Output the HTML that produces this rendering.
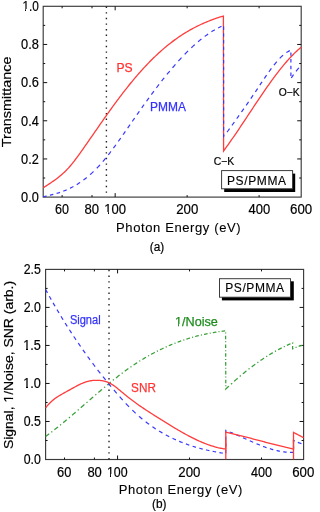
<!DOCTYPE html>
<html><head><meta charset="utf-8"><style>
html,body{margin:0;padding:0;background:#fff;width:315px;height:512px;overflow:hidden}
svg{position:absolute;left:0;top:0;display:block}
text{font-family:"Liberation Sans",sans-serif}
svg{will-change:transform}
</style></head><body>
<svg width="315" height="512" viewBox="0 0 315 512">
<rect x="43.2" y="6.3" width="258.00" height="190.80" fill="none" stroke="#3a3a3a" stroke-width="1.15"/>
<line x1="62.13" y1="197.1" x2="62.13" y2="195.1" stroke="#111" stroke-width="1"/>
<line x1="62.13" y1="6.3" x2="62.13" y2="8.3" stroke="#111" stroke-width="1"/>
<line x1="92.00" y1="197.1" x2="92.00" y2="195.1" stroke="#111" stroke-width="1"/>
<line x1="92.00" y1="6.3" x2="92.00" y2="8.3" stroke="#111" stroke-width="1"/>
<line x1="115.17" y1="197.1" x2="115.17" y2="193.1" stroke="#111" stroke-width="1"/>
<line x1="115.17" y1="6.3" x2="115.17" y2="10.3" stroke="#111" stroke-width="1"/>
<line x1="187.13" y1="197.1" x2="187.13" y2="195.1" stroke="#111" stroke-width="1"/>
<line x1="187.13" y1="6.3" x2="187.13" y2="8.3" stroke="#111" stroke-width="1"/>
<line x1="259.10" y1="197.1" x2="259.10" y2="195.1" stroke="#111" stroke-width="1"/>
<line x1="259.10" y1="6.3" x2="259.10" y2="8.3" stroke="#111" stroke-width="1"/>
<line x1="43.2" y1="178.02" x2="45.2" y2="178.02" stroke="#111" stroke-width="1"/>
<line x1="301.2" y1="178.02" x2="299.2" y2="178.02" stroke="#111" stroke-width="1"/>
<line x1="43.2" y1="158.94" x2="47.2" y2="158.94" stroke="#111" stroke-width="1"/>
<line x1="301.2" y1="158.94" x2="297.2" y2="158.94" stroke="#111" stroke-width="1"/>
<line x1="43.2" y1="139.86" x2="45.2" y2="139.86" stroke="#111" stroke-width="1"/>
<line x1="301.2" y1="139.86" x2="299.2" y2="139.86" stroke="#111" stroke-width="1"/>
<line x1="43.2" y1="120.78" x2="47.2" y2="120.78" stroke="#111" stroke-width="1"/>
<line x1="301.2" y1="120.78" x2="297.2" y2="120.78" stroke="#111" stroke-width="1"/>
<line x1="43.2" y1="101.70" x2="45.2" y2="101.70" stroke="#111" stroke-width="1"/>
<line x1="301.2" y1="101.70" x2="299.2" y2="101.70" stroke="#111" stroke-width="1"/>
<line x1="43.2" y1="82.62" x2="47.2" y2="82.62" stroke="#111" stroke-width="1"/>
<line x1="301.2" y1="82.62" x2="297.2" y2="82.62" stroke="#111" stroke-width="1"/>
<line x1="43.2" y1="63.54" x2="45.2" y2="63.54" stroke="#111" stroke-width="1"/>
<line x1="301.2" y1="63.54" x2="299.2" y2="63.54" stroke="#111" stroke-width="1"/>
<line x1="43.2" y1="44.46" x2="47.2" y2="44.46" stroke="#111" stroke-width="1"/>
<line x1="301.2" y1="44.46" x2="297.2" y2="44.46" stroke="#111" stroke-width="1"/>
<line x1="43.2" y1="25.38" x2="45.2" y2="25.38" stroke="#111" stroke-width="1"/>
<line x1="301.2" y1="25.38" x2="299.2" y2="25.38" stroke="#111" stroke-width="1"/>
<line x1="106.4" y1="6.6" x2="106.4" y2="197" stroke="#222" stroke-width="1.4" stroke-dasharray="1.4 4.2"/>
<path d="M43.20,187.79 L44.21,187.14 L45.21,186.48 L46.22,185.83 L47.23,185.18 L48.23,184.52 L49.24,183.86 L50.25,183.19 L51.25,182.52 L52.26,181.83 L53.27,181.14 L54.27,180.43 L55.28,179.70 L56.29,178.96 L57.29,178.20 L58.30,177.42 L59.31,176.61 L60.31,175.79 L61.32,174.93 L62.33,174.05 L63.33,173.14 L64.34,172.20 L65.35,171.23 L66.35,170.22 L67.36,169.17 L68.37,168.09 L69.37,166.96 L70.38,165.80 L71.39,164.60 L72.39,163.37 L73.40,162.11 L74.41,160.82 L75.41,159.50 L76.42,158.16 L77.43,156.80 L78.43,155.42 L79.44,154.03 L80.45,152.62 L81.45,151.21 L82.46,149.78 L83.47,148.35 L84.47,146.92 L85.48,145.48 L86.49,144.04 L87.49,142.59 L88.50,141.14 L89.51,139.69 L90.52,138.24 L91.52,136.79 L92.53,135.34 L93.54,133.88 L94.54,132.43 L95.55,130.97 L96.56,129.52 L97.56,128.07 L98.57,126.62 L99.58,125.17 L100.58,123.73 L101.59,122.28 L102.60,120.85 L103.60,119.41 L104.61,117.98 L105.62,116.56 L106.62,115.13 L107.63,113.72 L108.64,112.31 L109.64,110.90 L110.65,109.50 L111.66,108.11 L112.66,106.72 L113.67,105.34 L114.68,103.96 L115.68,102.59 L116.69,101.23 L117.70,99.88 L118.70,98.53 L119.71,97.19 L120.72,95.86 L121.72,94.54 L122.73,93.22 L123.74,91.92 L124.74,90.62 L125.75,89.33 L126.76,88.05 L127.76,86.78 L128.77,85.52 L129.78,84.27 L130.78,83.03 L131.79,81.80 L132.80,80.58 L133.80,79.38 L134.81,78.18 L135.82,76.99 L136.82,75.82 L137.83,74.66 L138.84,73.50 L139.84,72.36 L140.85,71.23 L141.86,70.11 L142.86,69.00 L143.87,67.91 L144.88,66.82 L145.88,65.75 L146.89,64.69 L147.90,63.63 L148.90,62.59 L149.91,61.57 L150.92,60.55 L151.92,59.54 L152.93,58.55 L153.94,57.57 L154.94,56.60 L155.95,55.64 L156.96,54.69 L157.96,53.75 L158.97,52.83 L159.98,51.91 L160.98,51.01 L161.99,50.12 L163.00,49.25 L164.00,48.38 L165.01,47.53 L166.02,46.69 L167.02,45.86 L168.03,45.04 L169.04,44.23 L170.04,43.44 L171.05,42.65 L172.06,41.88 L173.06,41.13 L174.07,40.38 L175.08,39.64 L176.08,38.92 L177.09,38.21 L178.10,37.51 L179.11,36.82 L180.11,36.14 L181.12,35.47 L182.13,34.81 L183.13,34.17 L184.14,33.53 L185.15,32.91 L186.15,32.30 L187.16,31.69 L188.17,31.10 L189.17,30.51 L190.18,29.94 L191.19,29.38 L192.19,28.83 L193.20,28.28 L194.21,27.75 L195.21,27.22 L196.22,26.71 L197.23,26.20 L198.23,25.71 L199.24,25.22 L200.25,24.74 L201.25,24.27 L202.26,23.81 L203.27,23.36 L204.27,22.92 L205.28,22.48 L206.29,22.06 L207.29,21.64 L208.30,21.23 L209.31,20.83 L210.31,20.43 L211.32,20.05 L212.33,19.67 L213.33,19.30 L214.34,18.94 L215.35,18.58 L216.35,18.24 L217.36,17.90 L218.37,17.56 L219.37,17.24 L220.38,16.92 L221.39,16.60 L222.39,16.30 L223.40,16.00 L223.60,150.90 L224.62,149.51 L225.64,148.11 L226.66,146.70 L227.68,145.27 L228.71,143.84 L229.73,142.40 L230.75,140.94 L231.77,139.48 L232.79,138.00 L233.81,136.52 L234.83,135.03 L235.85,133.54 L236.87,132.03 L237.89,130.52 L238.92,129.01 L239.94,127.49 L240.96,125.96 L241.98,124.43 L243.00,122.90 L244.02,121.37 L245.04,119.83 L246.06,118.29 L247.08,116.75 L248.11,115.20 L249.13,113.66 L250.15,112.12 L251.17,110.58 L252.19,109.04 L253.21,107.50 L254.23,105.96 L255.25,104.43 L256.27,102.90 L257.29,101.38 L258.32,99.85 L259.34,98.34 L260.36,96.83 L261.38,95.32 L262.40,93.83 L263.42,92.34 L264.44,90.85 L265.46,89.38 L266.48,87.91 L267.51,86.46 L268.53,85.01 L269.55,83.58 L270.57,82.15 L271.59,80.74 L272.61,79.34 L273.63,77.95 L274.65,76.57 L275.67,75.21 L276.69,73.86 L277.72,72.53 L278.74,71.21 L279.76,69.91 L280.78,68.63 L281.80,67.36 L282.82,66.11 L283.84,64.88 L284.86,63.66 L285.88,62.47 L286.91,61.29 L287.93,60.14 L288.95,59.00 L289.97,57.89 L290.99,56.80 L292.01,55.73 L293.03,54.68 L294.05,53.66 L295.07,52.66 L296.09,51.68 L297.12,50.73 L298.14,49.81 L299.16,48.91 L300.18,48.04 L301.20,47.19" fill="none" stroke="#ff3c3c" stroke-width="1.3" stroke-linejoin="miter"/>
<path d="M43.20,196.76 L44.21,196.54 L45.22,196.32 L46.22,196.09 L46.60,196.01 M49.90,195.24 L50.25,195.15 L51.26,194.90 L52.27,194.64 L53.28,194.38 L53.30,194.37 M56.60,193.44 L57.31,193.23 L58.32,192.91 L59.33,192.59 L60.00,192.36 M63.30,191.18 L63.36,191.16 L64.36,190.77 L65.37,190.36 L66.38,189.94 L66.70,189.80 M70.00,188.29 L70.41,188.09 L71.42,187.58 L72.43,187.06 L73.40,186.53 M76.70,184.62 L77.47,184.15 L78.47,183.51 L79.48,182.85 L80.10,182.44 M83.40,180.10 L83.51,180.02 L84.52,179.26 L85.53,178.48 L86.54,177.68 L86.80,177.46 M90.10,174.66 L90.57,174.25 L91.58,173.34 L92.58,172.41 L93.50,171.54 M96.77,168.27 L97.62,167.39 L98.63,166.32 L99.64,165.22 L99.95,164.87 M102.84,161.57 L103.67,160.60 L104.68,159.39 L105.68,158.17 M108.31,154.87 L108.71,154.37 L109.72,153.07 L110.72,151.76 L110.94,151.47 M113.41,148.17 L113.75,147.73 L114.76,146.36 L115.76,144.98 L115.91,144.77 M118.29,141.47 L118.79,140.77 L119.79,139.35 L120.70,138.07 M123.01,134.77 L123.83,133.61 L124.83,132.16 L125.38,131.37 M127.66,128.07 L127.86,127.79 L128.86,126.34 L129.87,124.88 L130.01,124.67 M132.29,121.37 L132.90,120.50 L133.90,119.05 L134.65,117.97 M136.96,114.67 L137.94,113.28 L138.94,111.84 L139.35,111.27 M141.68,107.97 L141.97,107.57 L142.97,106.16 L143.98,104.75 L144.11,104.57 M146.49,101.27 L147.01,100.56 L148.01,99.17 L148.96,97.87 M151.39,94.57 L152.04,93.69 L153.05,92.34 L153.92,91.17 M156.41,87.87 L157.08,87.00 L158.09,85.68 L159.02,84.47 M161.59,81.17 L162.12,80.49 L163.13,79.22 L164.14,77.95 L164.28,77.77 M166.95,74.47 L167.16,74.21 L168.17,72.98 L169.18,71.76 L169.75,71.07 M172.53,67.77 L173.21,66.99 L174.22,65.82 L175.22,64.66 L175.48,64.37 M178.41,61.07 L179.26,60.14 L180.26,59.04 L181.27,57.96 L181.53,57.67 M184.67,54.37 L185.30,53.73 L186.31,52.70 L187.32,51.69 L188.03,50.98 M191.33,47.79 L191.35,47.77 L192.36,46.82 L193.37,45.89 L194.37,44.97 L194.73,44.65 M198.03,41.77 L198.40,41.45 L199.41,40.61 L200.42,39.78 L201.43,38.97 L201.43,38.97 M204.73,36.42 L205.46,35.88 L206.47,35.15 L207.47,34.43 L208.13,33.98 M211.43,31.79 L211.51,31.74 L212.51,31.11 L213.52,30.50 L214.53,29.90 L214.83,29.73 M218.13,27.93 L218.56,27.71 L219.57,27.21 L220.58,26.72 L221.53,26.28 M223.60,26.62 L223.60,30.02 M223.60,33.32 L223.60,36.72 M223.60,40.02 L223.60,43.42 M223.60,46.72 L223.60,50.12 M223.60,53.42 L223.60,56.82 M223.60,60.12 L223.60,63.52 M223.60,66.82 L223.60,70.22 M223.60,73.52 L223.60,76.92 M223.60,80.22 L223.60,83.62 M223.60,86.92 L223.60,90.32 M223.60,93.62 L223.60,97.02 M223.60,100.32 L223.60,103.72 M223.60,107.02 L223.60,110.42 M223.60,113.72 L223.60,117.12 M223.60,120.42 L223.60,123.82 M223.60,127.12 L223.60,130.52 M223.60,133.82 L223.60,136.31 L224.37,135.40 M227.02,132.10 L227.68,131.25 L228.70,129.90 L229.58,128.70 M231.97,125.40 L232.78,124.26 L233.80,122.82 L234.38,122.00 M236.71,118.70 L236.86,118.50 L237.88,117.06 L238.90,115.62 L239.12,115.30 M241.46,112.00 L241.95,111.30 L242.97,109.86 L243.86,108.60 M246.18,105.30 L247.05,104.05 L248.07,102.58 L248.55,101.90 M250.82,98.60 L251.13,98.15 L252.15,96.66 L253.14,95.20 M255.36,91.90 L256.23,90.60 L257.25,89.06 L257.62,88.50 M259.81,85.20 L260.31,84.44 L261.33,82.91 L262.06,81.80 M264.28,78.50 L264.39,78.34 L265.41,76.84 L266.43,75.35 L266.60,75.10 M268.92,71.80 L269.49,71.00 L270.51,69.60 L271.39,68.40 M273.93,65.10 L274.58,64.27 L275.60,63.02 L276.62,61.82 L276.72,61.70 M279.72,58.40 L280.70,57.40 L281.72,56.42 L282.74,55.49 L283.11,55.18 M286.41,52.62 L286.82,52.33 L287.84,51.70 L288.86,51.13 L289.81,50.66 M290.90,52.40 L290.90,55.80 M290.90,59.10 L290.90,62.50 M290.90,65.80 L290.90,69.20 M290.90,72.50 L290.90,75.90 M291.29,78.00 L292.04,76.83 L293.19,75.13 L293.57,74.60 M296.02,71.30 L296.62,70.53 L297.77,69.15 L298.87,67.90" fill="none" stroke="#3838ff" stroke-width="1.2"/>
<rect x="45.6" y="269.4" width="258.00" height="190.10" fill="none" stroke="#3a3a3a" stroke-width="1.15"/>
<line x1="64.53" y1="459.5" x2="64.53" y2="457.5" stroke="#111" stroke-width="1"/>
<line x1="64.53" y1="269.4" x2="64.53" y2="271.4" stroke="#111" stroke-width="1"/>
<line x1="94.40" y1="459.5" x2="94.40" y2="457.5" stroke="#111" stroke-width="1"/>
<line x1="94.40" y1="269.4" x2="94.40" y2="271.4" stroke="#111" stroke-width="1"/>
<line x1="117.57" y1="459.5" x2="117.57" y2="455.5" stroke="#111" stroke-width="1"/>
<line x1="117.57" y1="269.4" x2="117.57" y2="273.4" stroke="#111" stroke-width="1"/>
<line x1="189.53" y1="459.5" x2="189.53" y2="457.5" stroke="#111" stroke-width="1"/>
<line x1="189.53" y1="269.4" x2="189.53" y2="271.4" stroke="#111" stroke-width="1"/>
<line x1="261.50" y1="459.5" x2="261.50" y2="457.5" stroke="#111" stroke-width="1"/>
<line x1="261.50" y1="269.4" x2="261.50" y2="271.4" stroke="#111" stroke-width="1"/>
<line x1="45.6" y1="440.49" x2="47.6" y2="440.49" stroke="#111" stroke-width="1"/>
<line x1="303.6" y1="440.49" x2="301.6" y2="440.49" stroke="#111" stroke-width="1"/>
<line x1="45.6" y1="421.48" x2="49.6" y2="421.48" stroke="#111" stroke-width="1"/>
<line x1="303.6" y1="421.48" x2="299.6" y2="421.48" stroke="#111" stroke-width="1"/>
<line x1="45.6" y1="402.47" x2="47.6" y2="402.47" stroke="#111" stroke-width="1"/>
<line x1="303.6" y1="402.47" x2="301.6" y2="402.47" stroke="#111" stroke-width="1"/>
<line x1="45.6" y1="383.46" x2="49.6" y2="383.46" stroke="#111" stroke-width="1"/>
<line x1="303.6" y1="383.46" x2="299.6" y2="383.46" stroke="#111" stroke-width="1"/>
<line x1="45.6" y1="364.45" x2="47.6" y2="364.45" stroke="#111" stroke-width="1"/>
<line x1="303.6" y1="364.45" x2="301.6" y2="364.45" stroke="#111" stroke-width="1"/>
<line x1="45.6" y1="345.44" x2="49.6" y2="345.44" stroke="#111" stroke-width="1"/>
<line x1="303.6" y1="345.44" x2="299.6" y2="345.44" stroke="#111" stroke-width="1"/>
<line x1="45.6" y1="326.43" x2="47.6" y2="326.43" stroke="#111" stroke-width="1"/>
<line x1="303.6" y1="326.43" x2="301.6" y2="326.43" stroke="#111" stroke-width="1"/>
<line x1="45.6" y1="307.42" x2="49.6" y2="307.42" stroke="#111" stroke-width="1"/>
<line x1="303.6" y1="307.42" x2="299.6" y2="307.42" stroke="#111" stroke-width="1"/>
<line x1="45.6" y1="288.41" x2="47.6" y2="288.41" stroke="#111" stroke-width="1"/>
<line x1="303.6" y1="288.41" x2="301.6" y2="288.41" stroke="#111" stroke-width="1"/>
<line x1="109" y1="269.8" x2="109" y2="459.3" stroke="#222" stroke-width="1.4" stroke-dasharray="1.4 4.3"/>
<path d="M45.60,436.50 L46.61,435.76 L47.61,435.02 L48.62,434.26 L49.20,433.82 M51.30,432.22 L51.63,431.96 L52.30,431.44 M54.40,429.80 L54.65,429.61 L55.66,428.81 L56.66,428.01 L57.67,427.20 L58.00,426.94 M60.10,425.23 L60.68,424.76 L61.10,424.42 M63.20,422.69 L63.70,422.27 L64.71,421.44 L65.71,420.60 L66.72,419.76 L66.80,419.69 M68.90,417.91 L69.73,417.21 L69.90,417.07 M72.00,415.28 L72.75,414.64 L73.76,413.77 L74.76,412.91 L75.60,412.19 M77.70,410.37 L77.78,410.31 L78.70,409.51 M80.80,407.69 L81.80,406.82 L82.81,405.95 L83.81,405.07 L84.40,404.56 M86.50,402.73 L86.83,402.45 L87.50,401.86 M89.60,400.04 L89.85,399.83 L90.85,398.95 L91.86,398.08 L92.86,397.21 L93.20,396.92 M95.30,395.11 L95.88,394.61 L96.30,394.25 M98.40,392.45 L98.90,392.03 L99.90,391.17 L100.91,390.31 L101.91,389.46 L102.00,389.39 M104.10,387.62 L104.93,386.93 L105.10,386.78 M107.20,385.04 L107.95,384.42 L108.95,383.59 L109.96,382.77 L110.80,382.08 M112.90,380.38 L112.97,380.32 L113.90,379.58 M116.00,377.92 L117.00,377.14 L118.00,376.35 L119.01,375.57 L119.60,375.12 M121.70,373.52 L122.02,373.27 L122.70,372.77 M124.80,371.21 L125.04,371.03 L126.05,370.30 L127.05,369.58 L128.06,368.86 L128.40,368.62 M130.50,367.14 L131.07,366.75 L131.50,366.46 M133.60,365.03 L134.09,364.70 L135.10,364.04 L136.10,363.38 L137.11,362.72 L137.20,362.66 M139.30,361.33 L140.13,360.81 L140.30,360.70 M142.40,359.41 L143.14,358.96 L144.15,358.36 L145.15,357.76 L146.00,357.27 M148.10,356.06 L148.17,356.02 L149.10,355.50 M151.20,354.34 L152.19,353.80 L153.20,353.26 L154.20,352.72 L154.80,352.41 M156.90,351.33 L157.22,351.17 L157.90,350.83 M160.00,349.79 L160.24,349.67 L161.24,349.19 L162.25,348.71 L163.25,348.24 L163.60,348.08 M165.70,347.12 L166.27,346.86 L166.70,346.67 M168.80,345.75 L169.29,345.54 L170.29,345.12 L171.30,344.70 L172.30,344.28 L172.40,344.24 M174.50,343.40 L175.32,343.08 L175.50,343.01 M177.60,342.21 L178.34,341.93 L179.34,341.56 L180.35,341.20 L181.20,340.90 M183.30,340.17 L183.37,340.15 L184.30,339.83 M186.40,339.14 L187.39,338.83 L188.39,338.52 L189.40,338.21 L190.00,338.03 M192.10,337.41 L192.42,337.32 L193.10,337.12 M195.20,336.54 L195.43,336.48 L196.44,336.21 L197.44,335.95 L198.45,335.69 L198.80,335.60 M200.90,335.09 L201.47,334.96 L201.90,334.86 M204.00,334.38 L204.48,334.27 L205.49,334.06 L206.49,333.85 L207.50,333.64 L207.60,333.62 M209.70,333.21 L210.52,333.06 L210.70,333.02 M212.80,332.65 L213.53,332.52 L214.54,332.35 L215.54,332.19 L216.40,332.06 M218.50,331.74 L218.56,331.73 L219.50,331.60 M221.60,331.32 L222.58,331.20 L223.59,331.08 L224.59,330.96 L225.20,330.90 M225.61,332.55 L225.61,333.55 M225.62,335.65 L225.63,339.25 M225.64,341.35 L225.64,342.35 M225.65,344.45 L225.66,348.05 M225.67,350.15 L225.67,351.15 M225.68,353.25 L225.69,356.85 M225.70,358.95 L225.70,359.95 M225.71,362.05 L225.72,365.65 M225.73,367.75 L225.73,368.75 M225.74,370.85 L225.75,374.45 M225.76,376.55 L225.76,377.55 M225.77,379.65 L225.78,383.25 M225.79,385.35 L225.79,386.35 M225.80,388.45 L225.80,388.98 L226.83,388.01 L227.86,387.05 L228.87,386.11 M230.97,384.18 L231.97,383.28 L231.97,383.27 M234.07,381.39 L235.05,380.52 L236.08,379.62 L237.10,378.73 L237.67,378.24 M239.77,376.44 L240.19,376.09 L240.77,375.60 M242.87,373.85 L243.27,373.52 L244.30,372.68 L245.33,371.85 L246.35,371.03 L246.47,370.94 M248.57,369.28 L249.44,368.61 L249.57,368.50 M251.67,366.90 L252.52,366.26 L253.55,365.49 L254.58,364.73 L255.27,364.23 M257.37,362.72 L257.66,362.51 L258.37,362.01 M260.47,360.55 L260.74,360.36 L261.77,359.66 L262.80,358.97 L263.82,358.29 L264.07,358.13 M266.17,356.77 L266.91,356.30 L267.17,356.14 M269.27,354.83 L269.99,354.39 L271.02,353.77 L272.05,353.16 L272.87,352.68 M274.97,351.47 L275.13,351.38 L275.97,350.91 M278.07,349.76 L278.21,349.69 L279.24,349.14 L280.27,348.60 L281.30,348.07 L281.67,347.88 M283.77,346.84 L284.38,346.55 L284.77,346.36 M286.87,345.38 L287.46,345.10 L288.49,344.64 L289.52,344.19 L290.47,343.78 M292.57,342.91 L292.60,342.89 L292.60,343.86 M292.60,345.96 L292.60,348.70 L293.46,348.32 M295.56,347.47 L295.90,347.34 L296.56,347.10 M298.66,346.39 L299.20,346.22 L300.30,345.90 L301.40,345.61 L302.26,345.40" fill="none" stroke="#38a038" stroke-width="1.25"/>
<path d="M45.60,289.50 L46.61,291.34 L47.47,292.90 M49.30,296.20 L49.63,296.78 L50.63,298.57 L51.22,299.60 M53.11,302.90 L53.65,303.86 L54.66,305.60 L55.07,306.30 M57.01,309.60 L57.68,310.74 L58.69,312.43 L59.03,313.00 M61.02,316.30 L61.71,317.44 L62.71,319.08 L63.10,319.70 M65.14,323.00 L65.73,323.96 L66.74,325.56 L67.28,326.40 M69.38,329.70 L69.76,330.30 L70.77,331.86 L71.58,333.10 M73.75,336.40 L73.79,336.47 L74.79,337.99 L75.80,339.49 L76.01,339.80 M78.24,343.10 L78.82,343.96 L79.83,345.42 L80.57,346.50 M82.87,349.80 L83.85,351.20 L84.86,352.62 L85.28,353.20 M87.65,356.50 L87.88,356.83 L88.89,358.21 L89.89,359.59 L90.13,359.90 M92.57,363.20 L92.92,363.66 L93.92,365.01 L94.93,366.34 L95.13,366.60 M97.65,369.90 L97.95,370.29 L98.96,371.59 L99.96,372.89 L100.29,373.30 M102.89,376.60 L102.98,376.72 L103.99,377.98 L105.00,379.24 L105.61,380.00 M108.30,383.30 L109.02,384.19 L110.03,385.41 L111.04,386.62 L111.11,386.70 M113.87,390.00 L114.06,390.22 L115.06,391.40 L116.07,392.58 L116.78,393.40 M119.66,396.70 L120.10,397.20 L121.10,398.33 L122.11,399.45 L122.71,400.10 M125.76,403.40 L126.14,403.81 L127.14,404.87 L128.15,405.91 L129.02,406.80 M132.30,410.08 L133.18,410.94 L134.19,411.90 L135.20,412.85 L135.70,413.31 M139.00,416.27 L139.22,416.47 L140.23,417.33 L141.24,418.18 L142.24,419.02 L142.40,419.15 M145.70,421.78 L146.27,422.22 L147.28,422.99 L148.28,423.74 L149.10,424.34 M152.40,426.68 L153.32,427.30 L154.32,427.98 L155.33,428.64 L155.80,428.94 M159.10,431.02 L159.36,431.18 L160.36,431.78 L161.37,432.38 L162.38,432.96 L162.50,433.03 M165.80,434.87 L166.40,435.20 L167.41,435.73 L168.42,436.26 L169.20,436.66 M172.50,438.28 L173.45,438.73 L174.46,439.20 L175.46,439.66 L175.90,439.86 M179.20,441.29 L179.49,441.41 L180.50,441.82 L181.51,442.23 L182.51,442.63 L182.60,442.66 M185.90,443.91 L186.54,444.14 L187.55,444.50 L188.55,444.86 L189.30,445.11 M192.60,446.20 L193.59,446.51 L194.59,446.81 L195.60,447.12 L196.00,447.23 M199.30,448.17 L199.63,448.26 L200.63,448.53 L201.64,448.80 L202.65,449.05 L202.70,449.07 M206.00,449.87 L206.67,450.03 L207.68,450.26 L208.69,450.48 L209.40,450.64 M212.70,451.33 L212.71,451.33 L213.72,451.53 L214.73,451.73 L215.73,451.92 L216.10,451.99 M219.40,452.58 L219.76,452.64 L220.77,452.81 L221.77,452.98 L222.78,453.14 L222.80,453.14 M225.80,453.31 L225.80,449.91 M225.80,446.61 L225.80,443.21 M225.80,439.91 L225.80,436.51 M225.80,433.21 L225.80,430.38 L226.37,430.61 M229.67,431.93 L229.90,432.03 L230.93,432.45 L231.95,432.88 L232.98,433.32 L233.07,433.36 M236.37,434.79 L237.08,435.11 L238.11,435.56 L239.13,436.02 L239.77,436.30 M243.07,437.78 L243.24,437.86 L244.26,438.32 L245.29,438.78 L246.32,439.24 L246.47,439.31 M249.77,440.79 L250.42,441.07 L251.44,441.53 L252.47,441.97 L253.17,442.28 M256.47,443.68 L256.57,443.73 L257.60,444.15 L258.62,444.57 L259.65,444.99 L259.87,445.07 M263.17,446.35 L263.75,446.57 L264.78,446.95 L265.80,447.32 L266.57,447.58 M269.87,448.68 L269.91,448.69 L270.93,449.01 L271.96,449.32 L272.98,449.61 L273.27,449.69 M276.57,450.54 L277.09,450.66 L278.11,450.89 L279.14,451.11 L279.97,451.27 M283.27,451.83 L284.27,451.96 L285.29,452.08 L286.32,452.18 L286.67,452.21 M289.97,452.40 L290.42,452.42 L291.45,452.43 L292.47,452.42 L293.37,452.40 M293.50,449.22 L293.50,445.82 M293.50,442.52 L293.50,440.30 L294.62,440.85 L294.68,440.88 M297.98,442.36 L297.99,442.37 L299.11,442.82 L300.23,443.25 L301.36,443.66 L301.38,443.67" fill="none" stroke="#3838ff" stroke-width="1.2"/>
<path d="M225.8,459.3 L225.8,440 M293.5,459.3 L293.5,440" fill="none" stroke="#ff3c3c" stroke-width="1.3"/>
<path d="M45.60,407.87 L46.61,406.61 L47.61,405.43 L48.62,404.31 L49.63,403.26 L50.63,402.27 L51.64,401.34 L52.65,400.46 L53.65,399.62 L54.66,398.84 L55.67,398.09 L56.67,397.38 L57.68,396.71 L58.69,396.06 L59.69,395.44 L60.70,394.84 L61.71,394.26 L62.71,393.69 L63.72,393.14 L64.73,392.59 L65.73,392.04 L66.74,391.49 L67.75,390.93 L68.75,390.37 L69.76,389.81 L70.77,389.24 L71.77,388.68 L72.78,388.11 L73.79,387.56 L74.79,387.00 L75.80,386.46 L76.81,385.93 L77.81,385.41 L78.82,384.91 L79.83,384.42 L80.83,383.95 L81.84,383.51 L82.85,383.08 L83.85,382.68 L84.86,382.31 L85.87,381.97 L86.87,381.66 L87.88,381.38 L88.89,381.14 L89.89,380.92 L90.90,380.74 L91.91,380.59 L92.92,380.47 L93.92,380.38 L94.93,380.33 L95.94,380.30 L96.94,380.29 L97.95,380.32 L98.96,380.38 L99.96,380.46 L100.97,380.57 L101.98,380.70 L102.98,380.87 L103.99,381.08 L105.00,381.33 L106.00,381.62 L107.01,381.96 L108.02,382.35 L109.02,382.80 L110.03,383.31 L111.04,383.87 L112.04,384.49 L113.05,385.14 L114.06,385.84 L115.06,386.56 L116.07,387.33 L117.08,388.11 L118.08,388.92 L119.09,389.75 L120.10,390.58 L121.10,391.43 L122.11,392.28 L123.12,393.12 L124.12,393.96 L125.13,394.80 L126.14,395.62 L127.14,396.42 L128.15,397.22 L129.16,398.01 L130.16,398.79 L131.17,399.56 L132.18,400.32 L133.18,401.07 L134.19,401.81 L135.20,402.55 L136.20,403.27 L137.21,403.99 L138.22,404.70 L139.22,405.41 L140.23,406.11 L141.24,406.80 L142.24,407.48 L143.25,408.16 L144.26,408.84 L145.26,409.50 L146.27,410.17 L147.28,410.83 L148.28,411.48 L149.29,412.14 L150.30,412.78 L151.30,413.43 L152.31,414.07 L153.32,414.71 L154.32,415.35 L155.33,415.98 L156.34,416.62 L157.34,417.25 L158.35,417.88 L159.36,418.51 L160.36,419.14 L161.37,419.77 L162.38,420.40 L163.38,421.03 L164.39,421.65 L165.40,422.28 L166.40,422.90 L167.41,423.53 L168.42,424.15 L169.42,424.77 L170.43,425.38 L171.44,426.00 L172.44,426.61 L173.45,427.22 L174.46,427.82 L175.46,428.43 L176.47,429.02 L177.48,429.62 L178.48,430.21 L179.49,430.79 L180.50,431.38 L181.51,431.95 L182.51,432.52 L183.52,433.09 L184.53,433.65 L185.53,434.20 L186.54,434.75 L187.55,435.30 L188.55,435.83 L189.56,436.36 L190.57,436.88 L191.57,437.40 L192.58,437.91 L193.59,438.41 L194.59,438.90 L195.60,439.39 L196.61,439.86 L197.61,440.33 L198.62,440.79 L199.63,441.24 L200.63,441.69 L201.64,442.12 L202.65,442.54 L203.65,442.95 L204.66,443.36 L205.67,443.75 L206.67,444.13 L207.68,444.50 L208.69,444.86 L209.69,445.21 L210.70,445.55 L211.71,445.88 L212.71,446.19 L213.72,446.49 L214.73,446.78 L215.73,447.06 L216.74,447.32 L217.75,447.58 L218.75,447.81 L219.76,448.04 L220.77,448.25 L221.77,448.45 L222.78,448.63 L223.79,448.80 L224.79,448.96 L225.80,449.10 L225.80,432.10 L226.83,432.34 L227.85,432.57 L228.88,432.82 L229.90,433.06 L230.93,433.30 L231.95,433.55 L232.98,433.80 L234.01,434.05 L235.03,434.30 L236.06,434.55 L237.08,434.81 L238.11,435.07 L239.13,435.32 L240.16,435.58 L241.19,435.84 L242.21,436.10 L243.24,436.36 L244.26,436.63 L245.29,436.89 L246.32,437.16 L247.34,437.42 L248.37,437.69 L249.39,437.96 L250.42,438.22 L251.44,438.49 L252.47,438.76 L253.50,439.03 L254.52,439.30 L255.55,439.57 L256.57,439.84 L257.60,440.11 L258.62,440.38 L259.65,440.65 L260.68,440.92 L261.70,441.19 L262.73,441.46 L263.75,441.73 L264.78,442.00 L265.80,442.27 L266.83,442.53 L267.86,442.80 L268.88,443.07 L269.91,443.33 L270.93,443.60 L271.96,443.86 L272.98,444.13 L274.01,444.39 L275.04,444.65 L276.06,444.91 L277.09,445.17 L278.11,445.43 L279.14,445.69 L280.17,445.94 L281.19,446.19 L282.22,446.45 L283.24,446.70 L284.27,446.95 L285.29,447.19 L286.32,447.44 L287.35,447.68 L288.37,447.92 L289.40,448.16 L290.42,448.40 L291.45,448.63 L292.47,448.87 L293.50,449.10 L293.50,432.40 L294.62,432.99 L295.74,433.58 L296.87,434.17 L297.99,434.76 L299.11,435.34 L300.23,435.93 L301.36,436.52 L302.48,437.11 L303.60,437.70" fill="none" stroke="#ff3c3c" stroke-width="1.3"/>
<rect x="224.2" y="173.6" width="71.0" height="18.4" fill="#000"/>
<rect x="221.6" y="170.6" width="71.0" height="18.2" fill="#fff" stroke="#333" stroke-width="0.95"/>
<rect x="221.9" y="281.3" width="71.9" height="19.1" fill="#000"/>
<rect x="219.5" y="278.7" width="71.0" height="18.5" fill="#fff" stroke="#333" stroke-width="0.95"/>
<text x="22.40" y="11.05" font-size="14" fill="#000" stroke="#000" stroke-width="0.2" textLength="16.43" lengthAdjust="spacingAndGlyphs">1.0</text>
<text x="21.10" y="49.21" font-size="14" fill="#000" stroke="#000" stroke-width="0.2" textLength="17.78" lengthAdjust="spacingAndGlyphs">0.8</text>
<text x="21.10" y="87.37" font-size="14" fill="#000" stroke="#000" stroke-width="0.2" textLength="17.78" lengthAdjust="spacingAndGlyphs">0.6</text>
<text x="21.10" y="125.53" font-size="14" fill="#000" stroke="#000" stroke-width="0.2" textLength="17.72" lengthAdjust="spacingAndGlyphs">0.4</text>
<text x="21.10" y="163.69" font-size="14" fill="#000" stroke="#000" stroke-width="0.2" textLength="17.78" lengthAdjust="spacingAndGlyphs">0.2</text>
<text x="21.10" y="201.85" font-size="14" fill="#000" stroke="#000" stroke-width="0.2" textLength="17.72" lengthAdjust="spacingAndGlyphs">0.0</text>
<text x="55.09" y="214.30" font-size="14" fill="#000" stroke="#000" stroke-width="0.2" textLength="13.92" lengthAdjust="spacingAndGlyphs">60</text>
<text x="84.49" y="214.30" font-size="14" fill="#000" stroke="#000" stroke-width="0.2" textLength="14.56" lengthAdjust="spacingAndGlyphs">80</text>
<text x="104.22" y="214.30" font-size="14" fill="#000" stroke="#000" stroke-width="0.2" textLength="21.80" lengthAdjust="spacingAndGlyphs">100</text>
<text x="176.15" y="214.30" font-size="14" fill="#000" stroke="#000" stroke-width="0.2" textLength="22.12" lengthAdjust="spacingAndGlyphs">200</text>
<text x="248.42" y="214.30" font-size="14" fill="#000" stroke="#000" stroke-width="0.2" textLength="21.71" lengthAdjust="spacingAndGlyphs">400</text>
<text x="290.00" y="214.30" font-size="14" fill="#000" stroke="#000" stroke-width="0.2" textLength="22.17" lengthAdjust="spacingAndGlyphs">600</text>
<text x="23.70" y="274.15" font-size="14" fill="#000" stroke="#000" stroke-width="0.2" textLength="17.14" lengthAdjust="spacingAndGlyphs">2.5</text>
<text x="23.70" y="312.17" font-size="14" fill="#000" stroke="#000" stroke-width="0.2" textLength="17.14" lengthAdjust="spacingAndGlyphs">2.0</text>
<text x="23.20" y="350.19" font-size="14" fill="#000" stroke="#000" stroke-width="0.2" textLength="17.63" lengthAdjust="spacingAndGlyphs">1.5</text>
<text x="23.20" y="388.21" font-size="14" fill="#000" stroke="#000" stroke-width="0.2" textLength="17.63" lengthAdjust="spacingAndGlyphs">1.0</text>
<text x="23.70" y="426.23" font-size="14" fill="#000" stroke="#000" stroke-width="0.2" textLength="17.14" lengthAdjust="spacingAndGlyphs">0.5</text>
<text x="23.70" y="464.25" font-size="14" fill="#000" stroke="#000" stroke-width="0.2" textLength="17.14" lengthAdjust="spacingAndGlyphs">0.0</text>
<text x="57.09" y="476.80" font-size="14" fill="#000" stroke="#000" stroke-width="0.2" textLength="14.31" lengthAdjust="spacingAndGlyphs">60</text>
<text x="87.39" y="476.80" font-size="14" fill="#000" stroke="#000" stroke-width="0.2" textLength="14.46" lengthAdjust="spacingAndGlyphs">80</text>
<text x="106.97" y="476.80" font-size="14" fill="#000" stroke="#000" stroke-width="0.2" textLength="20.67" lengthAdjust="spacingAndGlyphs">100</text>
<text x="178.35" y="476.80" font-size="14" fill="#000" stroke="#000" stroke-width="0.2" textLength="22.12" lengthAdjust="spacingAndGlyphs">200</text>
<text x="250.92" y="476.80" font-size="14" fill="#000" stroke="#000" stroke-width="0.2" textLength="21.11" lengthAdjust="spacingAndGlyphs">400</text>
<text x="292.20" y="476.80" font-size="14" fill="#000" stroke="#000" stroke-width="0.2" textLength="22.12" lengthAdjust="spacingAndGlyphs">600</text>
<text x="116.10" y="232.10" font-size="13" fill="#000" stroke="#000" stroke-width="0.1" textLength="124.48" lengthAdjust="spacing">Photon Energy (eV)</text>
<text x="118.80" y="494.20" font-size="13" fill="#000" stroke="#000" stroke-width="0.1" textLength="123.51" lengthAdjust="spacing">Photon Energy (eV)</text>
<text x="149.70" y="251.40" font-size="12" fill="#000" stroke="#000" stroke-width="0.2" textLength="14.47" lengthAdjust="spacingAndGlyphs">(a)</text>
<text x="152.00" y="508.20" font-size="12" fill="#000" stroke="#000" stroke-width="0.2" textLength="14.47" lengthAdjust="spacingAndGlyphs">(b)</text>
<text transform="translate(11.20,147.30) rotate(-90)" font-size="13.5" fill="#000" stroke="#000" stroke-width="0.2" textLength="90.71" lengthAdjust="spacingAndGlyphs">Transmittance</text>
<text transform="translate(13.40,449.10) rotate(-90)" font-size="13.5" fill="#000" stroke="#000" stroke-width="0.2" textLength="168.17" lengthAdjust="spacingAndGlyphs">Signal, 1/Noise, SNR (arb.)</text>
<text x="116.40" y="72.20" font-size="12.5" fill="#ff3333" stroke="#ff3333" stroke-width="0.25" textLength="16.16" lengthAdjust="spacingAndGlyphs">PS</text>
<text x="150.10" y="111.00" font-size="12.5" fill="#3333ff" stroke="#3333ff" stroke-width="0.25" textLength="35.83" lengthAdjust="spacingAndGlyphs">PMMA</text>
<text x="213.70" y="165.00" font-size="11" fill="#000" stroke="#000" stroke-width="0.2" textLength="20.62" lengthAdjust="spacingAndGlyphs">C&#8722;K</text>
<text x="278.70" y="96.00" font-size="11" fill="#000" stroke="#000" stroke-width="0.2" textLength="20.94" lengthAdjust="spacingAndGlyphs">O&#8722;K</text>
<text x="226.90" y="184.70" font-size="12" fill="#000" stroke="#000" stroke-width="0.12" textLength="59.24" lengthAdjust="spacing">PS/PMMA</text>
<text x="225.20" y="292.10" font-size="12" fill="#000" stroke="#000" stroke-width="0.12" textLength="58.84" lengthAdjust="spacing">PS/PMMA</text>
<text x="69.90" y="323.80" font-size="12.5" fill="#3333ff" stroke="#3333ff" stroke-width="0.25" textLength="30.72" lengthAdjust="spacingAndGlyphs">Signal</text>
<text x="131.10" y="392.40" font-size="12.5" fill="#ff3333" stroke="#ff3333" stroke-width="0.25" textLength="24.76" lengthAdjust="spacingAndGlyphs">SNR</text>
<text x="175.00" y="326.10" font-size="12.5" fill="#1e8c1e" stroke="#1e8c1e" stroke-width="0.25" textLength="42.90" lengthAdjust="spacingAndGlyphs">1/Noise</text>
<rect x="22.00" y="9.00" width="3.00" height="3.00" fill="#fff"/>
<rect x="26.00" y="9.00" width="3.00" height="3.00" fill="#fff"/>
<rect x="104.00" y="212.00" width="4.00" height="3.00" fill="#fff"/>
<rect x="109.00" y="212.00" width="3.00" height="3.00" fill="#fff"/>
<rect x="23.00" y="348.00" width="3.00" height="3.00" fill="#fff"/>
<rect x="28.00" y="348.00" width="3.00" height="3.00" fill="#fff"/>
<rect x="23.00" y="386.00" width="3.00" height="3.00" fill="#fff"/>
<rect x="28.00" y="386.00" width="3.00" height="3.00" fill="#fff"/>
<rect x="107.00" y="474.00" width="3.00" height="4.00" fill="#fff"/>
<rect x="111.00" y="474.00" width="3.00" height="4.00" fill="#fff"/>
<rect x="46.85" y="-2.11" width="3.11" height="2.71" fill="#fff" transform="translate(13.40,449.10) rotate(-90)"/>
<rect x="51.30" y="-2.11" width="3.00" height="2.71" fill="#fff" transform="translate(13.40,449.10) rotate(-90)"/>
<rect x="175.00" y="324.00" width="3.00" height="3.00" fill="#fff"/>
<rect x="179.00" y="324.00" width="3.00" height="3.00" fill="#fff"/>
</svg></body></html>
